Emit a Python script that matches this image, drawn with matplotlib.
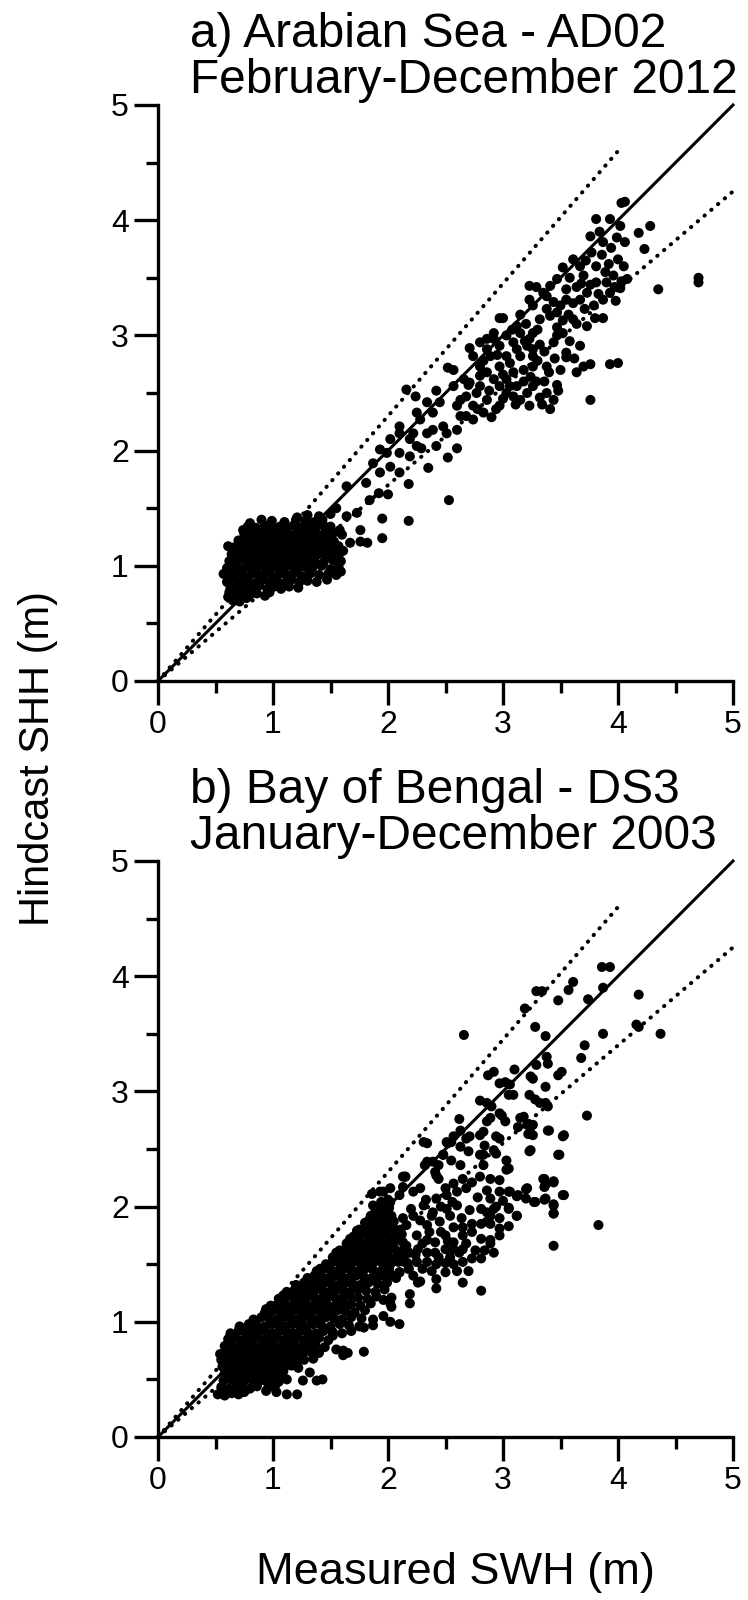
import matplotlib
matplotlib.use("Agg")
from matplotlib import pyplot as plt
from matplotlib.ticker import MultipleLocator

# reference lines (1:1 and +/-15 %)
REF_X = [0, 5]
REF_Y = [0, 5]
UPPER_X = [0, 4]
UPPER_Y = [0, 4.6]
LOWER_X = [0, 5]
LOWER_Y = [0, 4.25]

TICKS = [0, 1, 2, 3, 4, 5]

TITLE_A = ["a) Arabian Sea - AD02", "February-December 2012"]
TITLE_B = ["b) Bay of Bengal - DS3", "January-December 2003"]
XLABEL = "Measured SWH (m)"
YLABEL = "Hindcast SHH (m)"

# a) Arabian Sea - dense cloud around 1 m
AD02_CORE = [
    (0.65, 0.70), (0.71, 0.69), (0.77, 0.72), (0.61, 0.73),
    (0.62, 0.77), (0.68, 0.75), (0.74, 0.77), (0.80, 0.75), (0.86, 0.76), (0.93, 0.74), (0.97, 0.77),
    (0.63, 0.81), (0.70, 0.82), (0.76, 0.80), (0.82, 0.81), (0.88, 0.83), (0.95, 0.80), (1.01, 0.82),
    (1.07, 0.80), (1.14, 0.82), (1.22, 0.81),
    (0.60, 0.86), (0.66, 0.88), (0.72, 0.86), (0.78, 0.87), (0.85, 0.85), (0.91, 0.88), (0.97, 0.86),
    (1.03, 0.87), (1.10, 0.85), (1.16, 0.88), (1.23, 0.86), (1.30, 0.87), (1.38, 0.86), (1.47, 0.88),
    (0.57, 0.93), (0.64, 0.92), (0.70, 0.94), (0.76, 0.91), (0.82, 0.93), (0.88, 0.92), (0.94, 0.94),
    (1.00, 0.91), (1.06, 0.93), (1.12, 0.92), (1.19, 0.94), (1.25, 0.91), (1.32, 0.93), (1.40, 0.92),
    (1.48, 0.93), (1.55, 0.92), (1.59, 0.95),
    (0.60, 0.98), (0.67, 0.99), (0.73, 0.97), (0.79, 0.99), (0.85, 0.98), (0.91, 1.00), (0.97, 0.97),
    (1.03, 0.99), (1.09, 0.98), (1.15, 1.00), (1.21, 0.97), (1.28, 0.99), (1.34, 0.98), (1.42, 1.00),
    (1.50, 0.97), (1.57, 0.99),
    (0.62, 1.04), (0.68, 1.03), (0.74, 1.05), (0.80, 1.04), (0.86, 1.03), (0.92, 1.05), (0.98, 1.04),
    (1.04, 1.03), (1.10, 1.05), (1.17, 1.04), (1.23, 1.03), (1.29, 1.05), (1.36, 1.04), (1.44, 1.03),
    (1.52, 1.05), (1.59, 1.04),
    (0.64, 1.10), (0.70, 1.09), (0.77, 1.11), (0.83, 1.10), (0.89, 1.09), (0.95, 1.11), (1.01, 1.10),
    (1.07, 1.09), (1.13, 1.11), (1.19, 1.10), (1.26, 1.09), (1.32, 1.11), (1.39, 1.10), (1.46, 1.09),
    (1.54, 1.11), (1.61, 1.13),
    (0.61, 1.17), (0.66, 1.16), (0.72, 1.15), (0.79, 1.17), (0.86, 1.16), (0.92, 1.15), (0.98, 1.17),
    (1.04, 1.16), (1.10, 1.15), (1.16, 1.17), (1.22, 1.16), (1.28, 1.15), (1.35, 1.17), (1.42, 1.16),
    (1.49, 1.15), (1.57, 1.17),
    (0.70, 1.22), (0.77, 1.21), (0.84, 1.23), (0.90, 1.22), (0.96, 1.21), (1.02, 1.23), (1.08, 1.22),
    (1.14, 1.21), (1.20, 1.23), (1.26, 1.22), (1.33, 1.21), (1.40, 1.23), (1.47, 1.22), (1.53, 1.21),
    (1.60, 1.27),
    (0.75, 1.28), (0.82, 1.27), (0.88, 1.29), (0.95, 1.28), (1.01, 1.27), (1.07, 1.29), (1.13, 1.28),
    (1.19, 1.27), (1.25, 1.29), (1.31, 1.28), (1.38, 1.27), (1.45, 1.29), (1.52, 1.28),
    (0.74, 1.31), (0.78, 1.34), (0.85, 1.33), (0.93, 1.35), (1.00, 1.33), (1.06, 1.34), (1.12, 1.33),
    (1.18, 1.35), (1.24, 1.33), (1.30, 1.34), (1.37, 1.33), (1.44, 1.35), (1.50, 1.34),
    (0.80, 1.37), (0.90, 1.40), (0.99, 1.39), (1.10, 1.38), (1.20, 1.40), (1.28, 1.39), (1.36, 1.38),
    (1.43, 1.40), (1.21, 1.42), (1.30, 1.44), (1.40, 1.43),
]

# a) points between 1.5 and 2.7 m
AD02_MID = [
    (1.50, 1.45), (1.55, 1.50), (1.58, 1.31), (1.58, 1.11), (1.64, 1.43), (1.64, 1.69), (1.67, 1.20),
    (1.73, 1.46), (1.76, 1.21), (1.76, 1.31), (1.81, 1.72), (1.82, 1.20), (1.84, 1.57), (1.87, 1.89),
    (1.92, 1.63), (1.93, 1.81), (1.93, 2.01), (1.95, 1.24), (1.95, 1.41), (1.99, 1.98), (2.00, 1.62),
    (2.02, 1.86), (2.02, 2.10), (2.10, 1.98), (2.10, 2.15), (2.10, 2.21), (2.10, 1.81), (2.18, 1.39),
    (2.18, 1.71), (2.19, 1.95), (2.19, 2.10), (2.22, 2.15), (2.16, 2.53), (2.24, 2.47), (2.25, 2.04),
    (2.25, 2.33), (2.28, 2.27), (2.29, 2.02), (2.34, 2.42), (2.34, 2.15), (2.35, 1.85), (2.39, 2.33),
    (2.39, 2.18), (2.42, 2.52), (2.42, 2.04), (2.45, 2.42), (2.48, 2.21), (2.51, 2.15), (2.52, 1.94),
    (2.52, 2.72), (2.53, 1.57), (2.57, 2.70), (2.57, 2.56), (2.60, 2.02), (2.60, 2.18), (2.60, 2.39),
    (2.63, 2.30), (2.63, 2.44), (2.68, 2.30), (2.68, 2.47), (2.71, 2.89), (2.70, 2.57), (2.74, 2.27),
]

# a) points above 2.7 m
AD02_HIGH = [
    (2.71, 2.59), (2.74, 2.39), (2.77, 2.50), (2.80, 2.56), (2.80, 2.73), (2.80, 2.94), (2.80, 2.65),
    (2.83, 2.33), (2.86, 2.44), (2.86, 2.68), (2.86, 2.88), (2.86, 2.97), (2.89, 2.82), (2.92, 2.62),
    (2.92, 2.97), (2.92, 3.02), (2.94, 2.36), (2.97, 2.39), (2.97, 2.56), (2.97, 2.73), (2.97, 2.91),
    (2.97, 3.15), (3.00, 3.15), (3.03, 2.50), (3.03, 2.62), (3.03, 2.82), (3.03, 3.00), (3.09, 2.47),
    (3.09, 2.68), (3.09, 2.94), (3.11, 2.40), (3.12, 2.56), (3.12, 2.88), (3.12, 3.08), (3.15, 2.44),
    (3.15, 2.82), (3.15, 3.02), (3.15, 3.18), (3.21, 2.50), (3.21, 2.91), (3.23, 2.39), (3.23, 2.97),
    (3.23, 3.31), (3.23, 3.43), (3.26, 2.56), (3.26, 2.73), (3.26, 2.82), (3.26, 2.88), (3.26, 3.02),
    (3.26, 3.26), (3.29, 2.60), (3.29, 3.42), (3.32, 2.46), (3.32, 2.92), (3.32, 3.14), (3.35, 3.37),
    (3.38, 2.50), (3.38, 2.73), (3.38, 3.23), (3.38, 3.34), (3.40, 2.68), (3.41, 2.36), (3.41, 3.17),
    (3.41, 3.43), (3.44, 2.94), (3.44, 3.29), (3.47, 2.57), (3.47, 3.00), (3.47, 3.07), (3.47, 3.20),
    (3.47, 3.49), (3.48, 2.52), (3.50, 3.26), (3.52, 3.02), (3.52, 3.13), (3.52, 3.59), (3.55, 2.81),
    (3.55, 2.85), (3.55, 3.31), (3.55, 3.40), (3.57, 3.18), (3.61, 3.14), (3.61, 3.28), (3.61, 3.66),
    (3.64, 2.68), (3.64, 3.42), (3.67, 2.91), (3.67, 3.31), (3.67, 3.60), (3.70, 2.73), (3.70, 3.52),
    (3.71, 3.23), (3.73, 3.08), (3.73, 3.37), (3.76, 2.44), (3.76, 2.75), (3.76, 3.44), (3.76, 3.86),
    (3.77, 3.72), (3.79, 3.26), (3.81, 3.46), (3.81, 3.60), (3.81, 4.01), (3.83, 3.36), (3.86, 3.70),
    (3.87, 3.15), (3.87, 3.31), (3.87, 3.81), (3.89, 3.55), (3.90, 3.46), (3.93, 2.75), (3.93, 3.37),
    (3.93, 4.01), (3.94, 3.76), (3.96, 3.52), (3.97, 3.42), (3.99, 3.85), (4.00, 2.76), (4.00, 3.66),
    (4.02, 3.41), (4.02, 3.95), (4.03, 3.47), (4.03, 4.15), (4.06, 4.16), (4.06, 3.81), (4.08, 3.49),
    (4.18, 3.89), (4.23, 3.75), (4.28, 3.95), (4.35, 3.40), (4.70, 3.50), (4.70, 3.46),
    (2.66, 2.62), (2.74, 2.82), (2.78, 2.36), (2.83, 2.78), (2.88, 2.52), (2.90, 2.29), (2.95, 2.83),
    (3.00, 2.45), (3.00, 2.66), (3.06, 2.56), (3.06, 2.76), (3.08, 3.05), (3.18, 2.60), (3.18, 2.70),
    (3.19, 2.95), (3.20, 3.10), (3.24, 2.64), (3.30, 2.78), (3.30, 3.05), (3.34, 2.40), (3.36, 2.60),
    (3.36, 2.86), (3.44, 2.44), (3.45, 2.80), (3.50, 2.70), (3.58, 2.95), (3.58, 3.50), (3.62, 2.80),
    (3.64, 3.10), (3.68, 3.45), (3.72, 3.65), (3.80, 3.15), (3.84, 3.90), (3.92, 3.62), (3.98, 3.30),
    (4.05, 3.60),
]

# b) Bay of Bengal - dense band below 2 m
DS3_CORE = [
    (0.52, 0.37), (0.58, 0.36), (0.64, 0.38), (0.70, 0.37), (0.75, 0.39), (0.94, 0.40), (1.03, 0.39),
    (1.12, 0.37), (1.21, 0.37),
    (0.55, 0.43), (0.62, 0.42), (0.68, 0.44), (0.74, 0.43), (0.80, 0.42), (0.86, 0.44), (0.96, 0.43),
    (1.02, 0.45),
    (0.57, 0.49), (0.63, 0.50), (0.69, 0.48), (0.75, 0.49), (0.81, 0.50), (0.87, 0.48), (0.93, 0.49),
    (0.99, 0.50), (1.05, 0.48), (1.12, 0.50), (1.26, 0.49), (1.38, 0.49), (1.43, 0.50),
    (0.58, 0.55), (0.64, 0.56), (0.70, 0.54), (0.76, 0.55), (0.82, 0.56), (0.88, 0.54), (0.94, 0.55),
    (1.00, 0.56), (1.06, 0.54), (1.09, 0.57), (1.32, 0.56),
    (0.56, 0.61), (0.62, 0.62), (0.68, 0.60), (0.74, 0.61), (0.80, 0.62), (0.86, 0.60), (0.92, 0.61),
    (0.98, 0.62), (1.04, 0.60), (1.10, 0.61), (1.16, 0.62), (1.22, 0.60),
    (0.55, 0.67), (0.61, 0.68), (0.67, 0.66), (0.73, 0.67), (0.79, 0.68), (0.85, 0.66), (0.91, 0.67),
    (0.97, 0.68), (1.03, 0.66), (1.09, 0.67), (1.15, 0.68), (1.21, 0.66), (1.27, 0.67), (1.35, 0.68),
    (0.54, 0.72), (0.60, 0.74), (0.66, 0.73), (0.72, 0.72), (0.78, 0.74), (0.84, 0.73), (0.90, 0.72),
    (0.96, 0.74), (1.02, 0.73), (1.08, 0.72), (1.14, 0.74), (1.20, 0.73), (1.26, 0.72), (1.33, 0.74),
    (1.40, 0.73), (1.61, 0.71), (1.65, 0.73),
    (0.58, 0.79), (0.64, 0.80), (0.70, 0.78), (0.76, 0.79), (0.82, 0.80), (0.88, 0.78), (0.94, 0.79),
    (1.00, 0.80), (1.06, 0.78), (1.12, 0.79), (1.18, 0.80), (1.24, 0.78), (1.30, 0.79), (1.37, 0.80),
    (1.45, 0.78), (1.55, 0.76), (1.61, 0.75), (1.79, 0.74),
    (0.61, 0.85), (0.67, 0.86), (0.73, 0.84), (0.79, 0.85), (0.85, 0.86), (0.91, 0.84), (0.97, 0.85),
    (1.03, 0.86), (1.09, 0.84), (1.15, 0.85), (1.21, 0.86), (1.27, 0.84), (1.33, 0.85), (1.40, 0.86),
    (1.48, 0.84), (1.52, 0.88),
    (0.63, 0.90), (0.70, 0.92), (0.76, 0.91), (0.82, 0.90), (0.88, 0.92), (0.94, 0.91), (1.00, 0.90),
    (1.06, 0.92), (1.12, 0.91), (1.18, 0.90), (1.24, 0.92), (1.30, 0.91), (1.37, 0.90), (1.44, 0.92),
    (1.52, 0.91), (1.60, 0.90), (1.68, 0.92), (1.79, 0.95), (1.87, 0.97),
    (0.71, 0.96), (0.79, 0.98), (0.86, 0.97), (0.93, 0.96), (0.99, 0.98), (1.05, 0.97), (1.11, 0.96),
    (1.17, 0.98), (1.23, 0.97), (1.29, 0.96), (1.35, 0.98), (1.42, 0.97), (1.50, 0.96), (1.58, 0.98),
    (1.66, 0.97), (1.75, 0.96), (2.02, 1.00), (2.10, 0.98),
    (0.83, 1.02), (0.90, 1.04), (0.97, 1.03), (1.03, 1.02), (1.09, 1.04), (1.15, 1.03), (1.21, 1.02),
    (1.27, 1.04), (1.33, 1.03), (1.39, 1.02), (1.46, 1.04), (1.53, 1.03), (1.60, 1.02), (1.68, 1.04),
    (1.77, 1.03), (1.87, 1.02), (1.96, 1.05),
    (0.93, 1.08), (1.00, 1.10), (1.06, 1.09), (1.12, 1.08), (1.18, 1.10), (1.24, 1.09), (1.30, 1.08),
    (1.36, 1.10), (1.42, 1.09), (1.49, 1.08), (1.56, 1.10), (1.63, 1.09), (1.71, 1.08), (1.80, 1.10),
    (2.03, 1.13),
    (0.98, 1.14), (1.05, 1.16), (1.11, 1.15), (1.17, 1.14), (1.23, 1.16), (1.29, 1.15), (1.35, 1.14),
    (1.41, 1.16), (1.47, 1.15), (1.54, 1.14), (1.61, 1.16), (1.68, 1.15), (1.76, 1.14), (1.85, 1.16),
    (2.02, 1.16), (2.19, 1.16),
    (1.05, 1.20), (1.12, 1.22), (1.18, 1.21), (1.24, 1.20), (1.30, 1.22), (1.36, 1.21), (1.42, 1.20),
    (1.48, 1.22), (1.54, 1.21), (1.60, 1.20), (1.67, 1.22), (1.74, 1.21), (1.82, 1.20), (1.90, 1.22),
    (1.96, 1.19), (2.03, 1.21), (2.19, 1.24),
    (1.12, 1.26), (1.19, 1.28), (1.25, 1.27), (1.31, 1.26), (1.37, 1.28), (1.43, 1.27), (1.49, 1.26),
    (1.55, 1.28), (1.61, 1.27), (1.67, 1.26), (1.74, 1.28), (1.81, 1.27), (1.89, 1.26), (1.97, 1.28),
    (2.26, 1.34), (2.42, 1.29),
    (1.20, 1.32), (1.27, 1.34), (1.33, 1.33), (1.39, 1.32), (1.45, 1.34), (1.51, 1.33), (1.57, 1.32),
    (1.63, 1.34), (1.69, 1.33), (1.76, 1.32), (1.83, 1.34), (1.91, 1.33), (1.99, 1.34), (2.28, 1.35),
    (1.30, 1.38), (1.36, 1.40), (1.42, 1.39), (1.48, 1.38), (1.54, 1.40), (1.60, 1.39), (1.66, 1.38),
    (1.72, 1.40), (1.79, 1.39), (1.86, 1.38), (1.93, 1.40), (2.00, 1.39), (2.07, 1.38),
    (1.38, 1.44), (1.44, 1.46), (1.50, 1.45), (1.56, 1.44), (1.62, 1.46), (1.68, 1.45), (1.74, 1.44),
    (1.80, 1.46), (1.87, 1.45), (1.94, 1.44), (2.01, 1.46), (2.10, 1.43), (2.18, 1.46),
    (1.46, 1.50), (1.52, 1.52), (1.58, 1.51), (1.64, 1.50), (1.70, 1.52), (1.76, 1.51), (1.82, 1.50),
    (1.88, 1.52), (1.95, 1.51), (2.02, 1.50), (2.09, 1.52), (2.17, 1.51), (2.25, 1.52),
    (1.52, 1.56), (1.58, 1.58), (1.64, 1.57), (1.70, 1.56), (1.76, 1.58), (1.82, 1.57), (1.88, 1.56),
    (1.94, 1.58), (2.00, 1.57), (2.07, 1.56), (2.14, 1.58),
    (1.58, 1.62), (1.64, 1.64), (1.70, 1.63), (1.76, 1.62), (1.82, 1.64), (1.88, 1.63), (1.94, 1.62),
    (2.00, 1.64), (2.06, 1.63), (2.13, 1.62), (2.18, 1.60),
    (1.64, 1.68), (1.70, 1.70), (1.76, 1.69), (1.82, 1.68), (1.88, 1.70), (1.94, 1.69), (2.00, 1.68),
    (2.06, 1.70), (2.13, 1.69),
    (1.70, 1.74), (1.76, 1.76), (1.82, 1.75), (1.88, 1.74), (1.94, 1.76), (2.00, 1.75), (2.06, 1.74),
    (2.12, 1.76),
    (1.75, 1.80), (1.81, 1.82), (1.87, 1.81), (1.93, 1.80), (1.99, 1.82), (2.05, 1.81), (2.11, 1.80),
    (1.80, 1.86), (1.86, 1.88), (1.92, 1.87), (1.98, 1.86), (2.04, 1.88),
    (1.85, 1.92), (1.91, 1.94), (1.97, 1.93), (2.03, 1.92),
    (1.89, 1.98), (1.95, 2.00), (2.01, 1.99), (1.94, 2.04), (2.00, 2.06),
    (0.63, 0.88), (0.71, 0.95), (0.83, 0.98), (0.94, 1.11), (1.09, 1.23), (1.18, 1.26), (1.29, 1.34),
    (1.41, 1.46), (1.55, 1.60), (1.67, 1.72), (1.73, 1.79), (1.84, 1.89), (1.87, 2.01), (1.96, 2.13),
    (2.02, 2.16), (2.15, 2.26), (2.13, 2.17),
]

# b) scattered points above 2 m
DS3_HIGH = [
    (2.31, 2.56), (2.34, 2.39), (2.42, 2.27), (2.48, 2.45), (2.51, 2.56),
    (3.73, 2.79), (3.83, 1.84), (3.44, 1.66), (3.44, 1.94), (3.44, 2.02), (3.52, 2.10), (3.44, 2.22),
    (3.36, 2.24), (3.36, 2.17), (3.49, 2.45), (3.52, 2.61), (3.40, 2.66), (3.23, 2.48), (3.36, 2.06),
    (3.27, 2.04), (3.20, 2.07), (3.20, 2.15), (3.12, 2.09), (3.12, 1.92), (3.05, 1.99), (3.05, 1.83),
    (3.05, 2.13), (3.05, 2.33), (3.03, 2.40), (2.97, 1.81), (2.97, 1.75), (2.89, 1.71), (2.89, 1.68),
    (2.89, 1.92), (2.89, 1.85), (2.81, 1.72), (2.81, 1.85), (2.81, 1.55), (2.81, 1.27), (2.73, 1.55),
    (2.65, 1.52), (2.65, 1.34), (2.57, 1.50), (2.50, 1.51), (2.50, 1.43), (2.42, 1.37), (2.42, 1.50),
    (2.65, 1.63), (2.65, 1.75), (2.57, 1.63), (2.57, 1.69), (2.65, 1.82), (2.73, 1.78), (2.73, 1.85),
    (2.81, 1.98), (2.89, 2.07), (2.97, 2.13), (2.97, 2.23), (2.89, 2.24), (2.80, 2.26), (2.73, 2.21),
    (2.65, 2.24), (2.57, 2.20), (2.50, 2.16), (2.94, 2.61), (2.92, 2.49), (2.83, 2.45), (2.80, 2.62),
    (2.71, 2.61), (2.63, 2.52), (2.70, 2.48), (2.55, 2.40), (2.63, 2.36), (2.55, 2.56), (2.63, 2.66),
    (2.62, 2.76), (2.86, 2.74), (2.89, 2.77), (2.99, 2.79), (3.02, 2.74), (2.97, 2.81), (2.83, 2.65),
    (3.13, 2.69), (3.21, 2.71), (3.26, 2.71), (3.22, 2.63), (3.18, 2.78), (2.94, 2.46), (3.03, 2.32),
    (2.41, 2.30), (2.44, 2.24), (2.39, 2.39), (2.15, 2.26), (2.34, 1.52), (2.34, 1.60), (2.41, 1.60),
    (2.41, 1.69), (2.50, 1.75), (2.57, 1.82), (2.64, 1.90), (2.71, 1.97), (2.50, 1.63), (2.34, 1.71),
    (2.25, 1.52), (2.18, 1.46), (2.10, 1.43), (2.26, 1.63), (2.34, 1.84), (2.25, 1.75), (2.18, 1.60),
    (2.10, 1.58), (2.05, 1.40), (1.99, 1.34), (2.42, 2.07), (2.51, 2.10), (2.60, 2.13), (2.68, 2.16),
    (2.28, 2.16), (2.22, 2.13), (2.10, 2.10), (2.02, 2.04), (2.31, 2.01), (2.39, 1.95), (2.51, 1.98),
    (2.60, 2.01), (2.22, 1.92), (2.13, 1.90), (2.05, 1.87), (2.45, 1.87), (2.54, 1.92),
    (2.66, 3.49), (3.19, 3.72), (3.29, 3.87), (3.34, 3.87), (3.28, 3.56), (3.37, 3.48), (3.48, 3.79),
    (3.57, 3.88), (3.61, 3.95), (3.86, 4.08), (3.93, 4.08), (3.87, 3.90), (3.74, 3.80), (4.18, 3.84),
    (4.16, 3.58), (4.18, 3.56), (4.37, 3.50), (3.87, 3.50), (3.71, 3.40), (3.68, 3.29), (3.51, 3.17),
    (3.48, 3.14), (3.38, 3.30), (3.39, 3.24), (3.29, 3.23), (3.24, 3.13), (3.26, 3.11), (3.37, 3.04),
    (3.10, 3.19), (2.92, 3.17), (2.87, 3.14), (2.97, 3.07), (3.02, 3.08), (3.06, 3.06), (3.09, 2.97),
    (3.05, 2.97), (3.23, 2.97), (3.28, 2.93), (3.32, 2.90), (3.39, 2.87), (3.37, 2.90), (2.80, 2.92),
    (2.86, 2.90), (2.90, 2.87), (3.15, 2.77), (3.24, 2.69), (3.26, 2.62), (3.39, 2.66), (3.53, 2.62),
    (3.24, 2.49), (3.48, 2.45), (2.97, 2.59), (2.84, 2.53), (2.80, 2.45), (2.83, 2.36), (2.68, 2.59),
    (2.57, 2.61), (2.52, 2.55), (2.34, 2.55), (2.32, 2.36), (2.48, 2.45), (2.44, 2.36), (3.35, 2.24),
    (3.37, 2.19), (3.44, 2.21), (3.53, 2.10), (3.06, 2.13), (3.13, 2.10), (3.21, 2.16), (3.28, 2.04),
    (3.37, 2.07), (3.44, 2.01), (3.44, 1.94), (3.05, 1.98), (3.12, 1.92), (2.13, 2.26), (1.93, 2.13),
    (1.86, 2.11), (2.86, 1.95), (2.92, 1.98), (2.86, 1.87), (2.97, 1.90),
    (2.14, 1.52), (2.16, 1.66), (2.16, 1.84), (2.20, 1.98), (2.22, 1.40), (2.24, 1.58), (2.28, 1.88),
    (2.30, 1.68), (2.30, 1.46), (2.33, 2.06), (2.36, 1.78), (2.38, 1.44), (2.38, 1.92), (2.44, 1.56),
    (2.46, 1.78), (2.46, 2.00), (2.52, 1.70), (2.54, 1.56), (2.56, 2.04), (2.60, 1.44), (2.62, 1.60),
    (2.68, 1.68), (2.70, 1.44), (2.76, 1.62), (2.78, 2.08), (2.84, 1.62), (2.86, 2.14), (2.92, 1.60),
    (2.94, 2.00), (3.00, 2.05),
]

FONT = "Liberation Sans"
W, H = 748, 1600


def draw_panel(ax, groups):
    for pts in groups:
        xs, ys = zip(*pts)
        ax.scatter(xs, ys, s=52, color="black", edgecolors="none", zorder=2, clip_on=False)
    ax.plot(REF_X, REF_Y, color="black", lw=2.2, zorder=3, clip_on=False)
    for lx, ly in [(UPPER_X, UPPER_Y), (LOWER_X, LOWER_Y)]:
        ax.plot(lx, ly, color="black", lw=2.9, linestyle=(0, (0.1, 2.1)),
                dash_capstyle="round", zorder=3, clip_on=False)

    ax.set_xlim(0, 5)
    ax.set_ylim(0, 5)
    ax.set_xticks(TICKS)
    ax.set_yticks(TICKS)
    ax.xaxis.set_minor_locator(MultipleLocator(0.5))
    ax.yaxis.set_minor_locator(MultipleLocator(0.5))
    ax.spines["top"].set_visible(False)
    ax.spines["right"].set_visible(False)
    for side in ("left", "bottom"):
        ax.spines[side].set_linewidth(2.4)
    ax.tick_params(which="major", direction="out", length=17, width=2.4, pad=4, labelsize=23)
    ax.tick_params(which="minor", direction="out", length=8.5, width=2.4)
    for lab in ax.get_xticklabels() + ax.get_yticklabels():
        lab.set_fontfamily(FONT)
    ax.set_facecolor("none")


def main():
    fig = plt.figure(figsize=(W / 100, H / 100), dpi=100)

    left = 158 / W
    width = 575 / W
    height = 576 / H
    ax_a = fig.add_axes([left, 1 - 681 / H, width, height])
    ax_b = fig.add_axes([left, 1 - 1437 / H, width, height])

    draw_panel(ax_a, [AD02_CORE, AD02_MID, AD02_HIGH])
    draw_panel(ax_b, [DS3_CORE, DS3_HIGH])

    tx = 190 / W
    for top, lines in [(0, TITLE_A), (756, TITLE_B)]:
        fig.text(tx, 1 - (top + 47) / H, lines[0], fontsize=34.5, family=FONT, va="baseline")
        fig.text(tx, 1 - (top + 93) / H, lines[1], fontsize=34.5, family=FONT, va="baseline")

    fig.text(455 / W, 1 - 1584 / H, XLABEL, fontsize=32.5, family=FONT,
             ha="center", va="baseline")
    fig.text(38 / W, 1 - 759 / H, YLABEL, fontsize=30, family=FONT, rotation=90,
             ha="center", va="center")

    fig.savefig("out.png", dpi=100)


if __name__ == "__main__":
    main()
